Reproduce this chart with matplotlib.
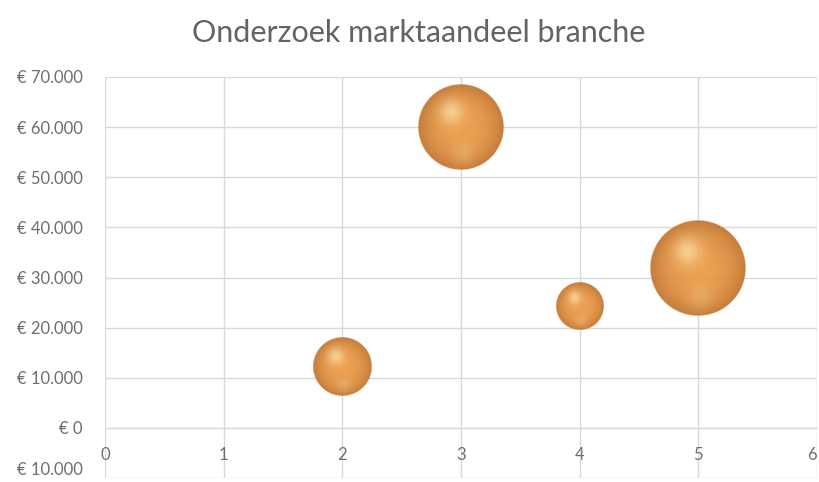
import numpy as np
import matplotlib.pyplot as plt

# marktonderzoek: positie, omzet en bubbelgrootte
x_pos = [2, 3, 4, 5]
omzet = [12300, 60000, 24300, 31800]
grootte = [15, 32, 10, 40]

x_ticks = [0, 1, 2, 3, 4, 5, 6]
y_ticks = [-10000, 0, 10000, 20000, 30000, 40000, 50000, 60000, 70000]
y_labels = ['€ 10.000', '€ 0', '€ 10.000', '€ 20.000', '€ 30.000',
            '€ 40.000', '€ 50.000', '€ 60.000', '€ 70.000']

plt.rcParams['font.family'] = ['Lato', 'DejaVu Sans']
txt_col = '#6E6E6E'
title_col = '#636363'
grid_col = '#D9D9D9'


def sphere_img(n=240):
    """RGBA image of a shaded orange ball"""
    t = np.linspace(-1, 1, n)
    u, v = np.meshgrid(t, t)
    d = np.sqrt(u**2 + v**2)
    base = np.array([0.92, 0.60, 0.27])
    dark = np.array([0.72, 0.42, 0.15])
    light = np.array([1.0, 0.90, 0.68])
    rim = (np.clip(d, 0, 1) ** 2.5 * 0.85)[..., None]
    col = base * (1 - rim) + dark * rim
    hl = (np.exp(-((u + 0.22)**2 + (v - 0.36)**2) / 0.08) * 0.65)[..., None]
    col = col * (1 - hl) + light * hl
    refl = (np.exp(-((u - 0.05)**2 + (v + 0.62)**2) / 0.06) * 0.22)[..., None]
    col = col * (1 - refl) + light * refl
    alpha = np.clip((1 - d) * n / 2, 0, 1) * 0.93
    return np.dstack([col, alpha])


fig = plt.figure(figsize=(8.2, 4.82), dpi=100)
ax = fig.add_axes([105 / 820, 4 / 482, 712 / 820, 401 / 482])
ax.set_xlim(0, 6)
ax.set_ylim(-10000, 70000)

ax.set_xticks(x_ticks)
ax.set_yticks(y_ticks)
ax.set_yticklabels(y_labels)
ax.grid(True, color=grid_col, lw=1.0, zorder=0)
ax.set_axisbelow(True)
for s in ax.spines.values():
    s.set_visible(False)
ax.spines['bottom'].set_visible(True)
ax.spines['bottom'].set_position(('data', 0))
ax.spines['bottom'].set_color(grid_col)
ax.tick_params(axis='both', length=0, colors=txt_col)
ax.tick_params(axis='x', pad=14, labelsize=12)
ax.tick_params(axis='y', pad=16, labelsize=12)
for lab in ax.get_xticklabels():
    lab.set_clip_on(False)
# randlabels binnen de figuur houden
ax.get_xticklabels()[-1].set_ha('right')
ax.get_yticklabels()[0].set_va('bottom')

# bubbels: straal in pixels, omgerekend naar data-eenheden
ppx = ax.transData.transform((1, 0))[0] - ax.transData.transform((0, 0))[0]
ppy = ax.transData.transform((0, 10000))[1] - ax.transData.transform((0, 0))[1]
img = sphere_img()
k = 48 / np.sqrt(40)
for xi, yi, si in zip(x_pos, omzet, grootte):
    r = k * np.sqrt(si)
    dx = r / ppx
    dy = r / ppy * 10000
    ax.imshow(img, extent=(xi - dx, xi + dx, yi - dy, yi + dy), origin='lower',
              aspect='auto', interpolation='bilinear', zorder=3)
ax.set_xlim(0, 6)
ax.set_ylim(-10000, 70000)

fig.text(0.511, 1 - 33 / 482, 'Onderzoek marktaandeel branche', ha='center',
         va='center', fontsize=22, color=title_col)

fig.savefig('out.png', dpi=100)
